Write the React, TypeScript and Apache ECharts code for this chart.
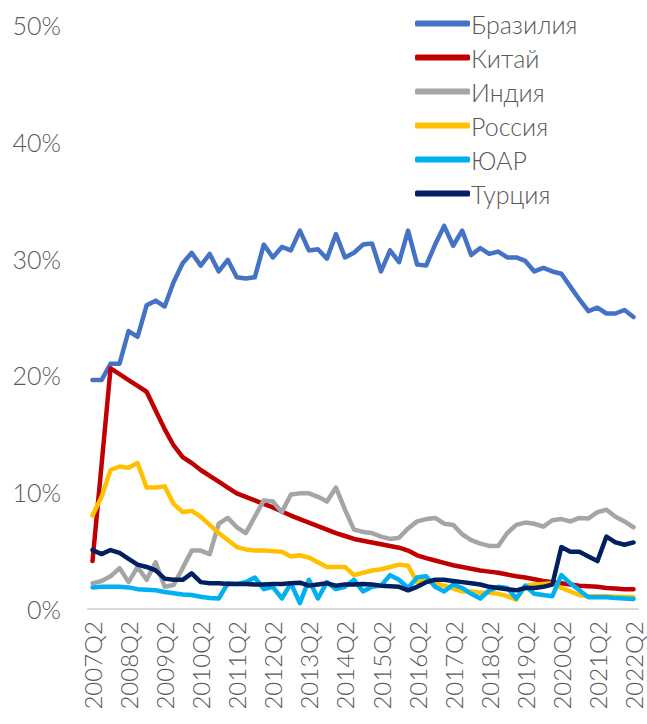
import React, { useEffect, useRef } from "react";
import * as echarts from "echarts";

const quarters = [
  "2007Q2","2007Q3","2007Q4","2008Q1","2008Q2","2008Q3","2008Q4","2009Q1","2009Q2","2009Q3","2009Q4","2010Q1",
  "2010Q2","2010Q3","2010Q4","2011Q1","2011Q2","2011Q3","2011Q4","2012Q1","2012Q2","2012Q3","2012Q4","2013Q1",
  "2013Q2","2013Q3","2013Q4","2014Q1","2014Q2","2014Q3","2014Q4","2015Q1","2015Q2","2015Q3","2015Q4","2016Q1",
  "2016Q2","2016Q3","2016Q4","2017Q1","2017Q2","2017Q3","2017Q4","2018Q1","2018Q2","2018Q3","2018Q4","2019Q1",
  "2019Q2","2019Q3","2019Q4","2020Q1","2020Q2","2020Q3","2020Q4","2021Q1","2021Q2","2021Q3","2021Q4","2022Q1",
  "2022Q2",
];

const brazil = [
  19.6, 19.6, 21.0, 21.0, 23.8, 23.3, 26.0, 26.4, 25.9, 28.0, 29.6, 30.5,
  29.4, 30.4, 28.9, 29.9, 28.4, 28.3, 28.4, 31.2, 30.1, 31.0, 30.7, 32.4,
  30.7, 30.8, 30.0, 32.1, 30.1, 30.5, 31.2, 31.3, 28.9, 30.7, 29.7, 32.4,
  29.5, 29.4, 31.2, 32.8, 31.1, 32.4, 30.3, 30.9, 30.4, 30.6, 30.1, 30.1,
  29.8, 28.9, 29.2, 28.9, 28.7, 27.6, 26.5, 25.5, 25.8, 25.3, 25.3, 25.6,
  25.0,
];

const china = [
  4.1, 12.3, 20.6, 20.1, 19.6, 19.1, 18.6, 17.0, 15.4, 14.0, 13.0, 12.5,
  11.9, 11.4, 10.9, 10.4, 9.9, 9.6, 9.3, 9.0, 8.7, 8.35, 8.0, 7.7,
  7.4, 7.1, 6.8, 6.5, 6.25, 6.0, 5.85, 5.7, 5.55, 5.4, 5.25, 5.0,
  4.6, 4.35, 4.15, 3.95, 3.75, 3.6, 3.45, 3.3, 3.2, 3.1, 2.95, 2.8,
  2.7, 2.55, 2.4, 2.3, 2.2, 2.1, 2.0, 1.95, 1.9, 1.8, 1.75, 1.7,
  1.7,
];

const india = [
  2.2, 2.4, 2.8, 3.5, 2.3, 3.6, 2.5, 4.0, 1.9, 2.05, 3.5, 5.0,
  5.0, 4.7, 7.3, 7.8, 7.0, 6.5, 7.9, 9.3, 9.2, 8.3, 9.8, 9.9,
  9.9, 9.6, 9.2, 10.4, 8.5, 6.8, 6.6, 6.5, 6.2, 6.0, 6.1, 6.9,
  7.5, 7.7, 7.8, 7.3, 7.2, 6.4, 5.9, 5.6, 5.4, 5.4, 6.5, 7.2,
  7.4, 7.3, 7.05, 7.6, 7.7, 7.5, 7.8, 7.75, 8.3, 8.5, 7.9, 7.5,
  7.0,
];

const russia = [
  8.0, 9.6, 11.9, 12.2, 12.1, 12.5, 10.4, 10.4, 10.5, 9.0, 8.3, 8.4,
  7.9, 7.2, 6.5, 5.9, 5.3, 5.1, 5.0, 5.0, 4.95, 4.9, 4.5, 4.6,
  4.4, 4.0, 3.6, 3.6, 3.6, 2.9, 3.1, 3.3, 3.4, 3.6, 3.8, 3.7,
  2.3, 2.4, 2.2, 2.0, 1.75, 1.5, 1.5, 1.4, 1.4, 1.3, 1.1, 0.8,
  2.0, 2.1, 2.15, 2.2, 1.8, 1.5, 1.2, 1.1, 1.1, 1.1, 1.05, 1.05,
  1.0,
];

const southAfrica = [
  1.85, 1.9, 1.9, 1.9, 1.85, 1.7, 1.65, 1.6, 1.45, 1.35, 1.25, 1.2,
  1.05, 0.95, 0.9, 2.2, 2.15, 2.3, 2.7, 1.7, 1.9, 0.9, 2.2, 0.5,
  2.5, 0.9, 2.3, 1.7, 1.9, 2.5, 1.5, 1.9, 2.0, 2.9, 2.5, 1.8,
  2.7, 2.8, 1.9, 1.5, 2.1, 1.8, 1.3, 0.9, 1.6, 1.9, 1.8, 0.9,
  2.0, 1.3, 1.2, 1.1, 2.9, 2.2, 1.6, 1.0, 1.0, 1.0, 0.95, 0.9,
  0.85,
];

const turkey = [
  5.05, 4.7, 5.05, 4.8, 4.3, 3.8, 3.6, 3.3, 2.6, 2.5, 2.5, 3.05,
  2.3, 2.2, 2.2, 2.15, 2.15, 2.15, 2.1, 2.1, 2.15, 2.15, 2.2, 2.25,
  2.0, 2.1, 2.2, 2.0, 2.1, 2.1, 2.15, 2.1, 2.0, 1.95, 1.9, 1.6,
  1.9, 2.3, 2.5, 2.5, 2.4, 2.3, 2.2, 2.1, 1.9, 1.8, 1.7, 1.6,
  1.8, 1.8, 1.9, 2.1, 5.3, 4.9, 4.9, 4.5, 4.1, 6.2, 5.7, 5.5,
  5.7,
];

const seriesNames = ["Бразилия", "Китай", "Индия", "Россия", "ЮАР", "Турция"];
const seriesColors = ["#4472C4", "#C00000", "#A5A5A5", "#FFC000", "#00B0F0", "#002060"];
const seriesData = [brazil, china, india, russia, southAfrica, turkey];

const FONT = "Lato, 'Noto Sans', sans-serif";
const TEXT_COLOR = "#595959";

export default function App() {
  const ref = useRef<HTMLDivElement>(null);

  useEffect(() => {
    document.body.style.margin = "0";
    if (!ref.current) return;
    const chart = echarts.init(ref.current, undefined, { renderer: "svg" });
    chart.setOption({
      animation: false,
      backgroundColor: "#ffffff",
      grid: { left: 88, right: 9, top: 25, bottom: 115, containLabel: false },
      legend: {
        orient: "vertical",
        left: 410,
        top: 6,
        itemWidth: 55,
        itemHeight: 6,
        itemGap: 9,
        icon: "roundRect",
        textStyle: {
          fontSize: 25,
          fontWeight: 300,
          color: TEXT_COLOR,
          fontFamily: FONT,
          lineHeight: 24,
          padding: [0, 0, 0, -4],
        },
        data: seriesNames,
      },
      xAxis: {
        type: "category",
        data: quarters,
        boundaryGap: true,
        axisLine: { show: true, lineStyle: { color: "#D9D9D9", width: 2 } },
        axisTick: { show: false },
        axisLabel: {
          interval: 3,
          rotate: 90,
          margin: 12,
          fontSize: 24,
          fontWeight: 300,
          color: TEXT_COLOR,
          fontFamily: FONT,
        },
      },
      yAxis: {
        type: "value",
        min: 0,
        max: 50,
        interval: 10,
        splitLine: { show: false },
        axisLine: { show: false },
        axisTick: { show: false },
        axisLabel: {
          formatter: "{value}%",
          fontSize: 25,
          fontWeight: 300,
          color: TEXT_COLOR,
          fontFamily: FONT,
          margin: 27,
        },
      },
      series: seriesNames.map((name, i) => ({
        name,
        type: "line",
        data: seriesData[i],
        symbol: "none",
        lineStyle: { width: 4.5, color: seriesColors[i], cap: "round", join: "round" },
        itemStyle: { color: seriesColors[i] },
        z: 2 + i,
      })),
    });
    return () => chart.dispose();
  }, []);

  return <div ref={ref} style={{ width: 647, height: 724 }} />;
}
